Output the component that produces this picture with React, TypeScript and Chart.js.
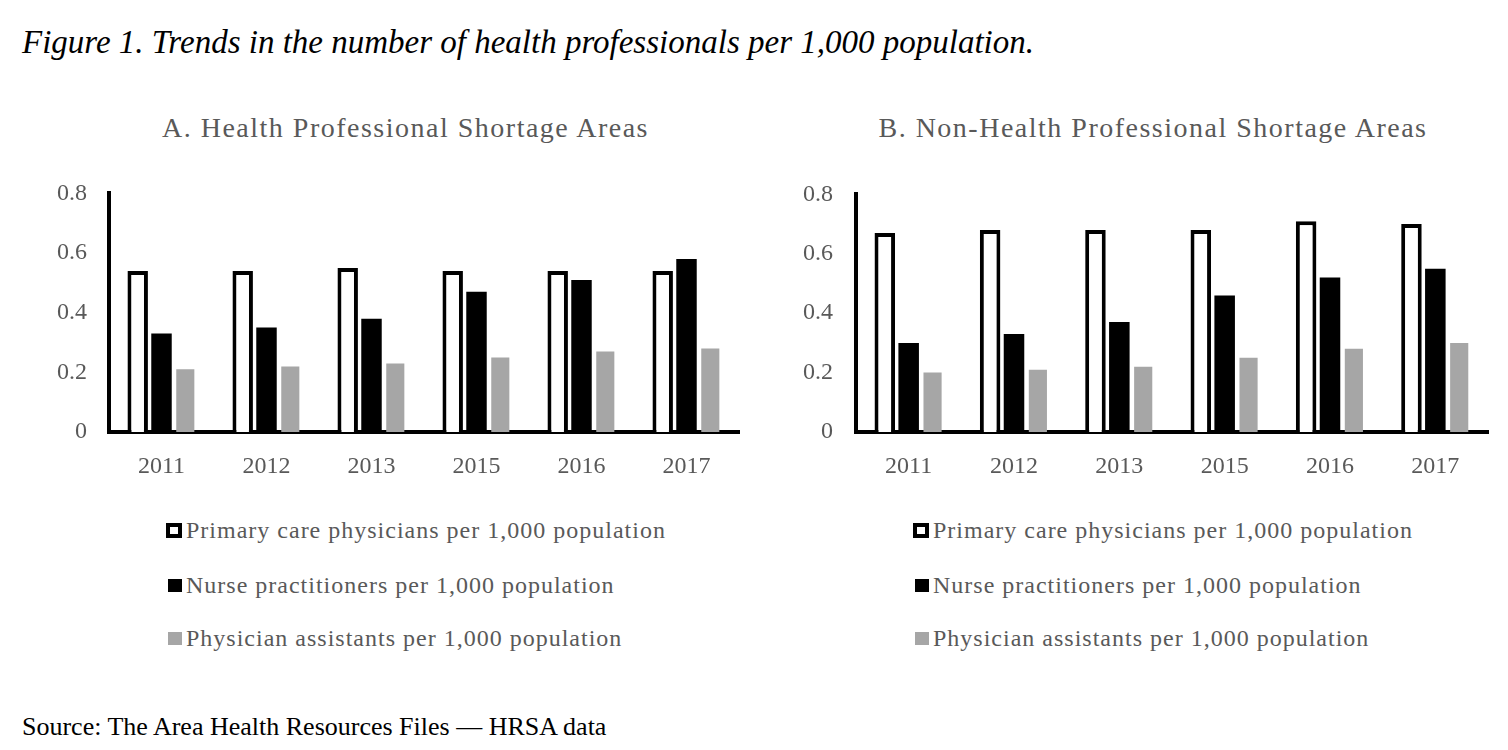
import React, { useEffect, useRef } from "react";
import { Chart, registerables } from "chart.js";

Chart.register(...registerables);

const years = ["2011", "2012", "2013", "2015", "2016", "2017"];
const seriesNames = [
  "Primary care physicians per 1,000 population",
  "Nurse practitioners per 1,000 population",
  "Physician assistants per 1,000 population",
];
const hpsaPrimaryCare = [0.54, 0.54, 0.55, 0.54, 0.54, 0.54];
const hpsaNurse = [0.33, 0.35, 0.38, 0.47, 0.51, 0.58];
const hpsaAssistants = [0.21, 0.22, 0.23, 0.25, 0.27, 0.28];
const nonPrimaryCare = [0.67, 0.68, 0.68, 0.68, 0.71, 0.7];
const nonNurse = [0.3, 0.33, 0.37, 0.46, 0.52, 0.55];
const nonAssistants = [0.2, 0.21, 0.22, 0.25, 0.28, 0.3];
const yMin = 0;
const yMax = 0.8;
const yStep = 0.2;

const FONT = "'Liberation Serif', 'Times New Roman', serif";
const GREY_TEXT = "#595959";
const BAR_GREY = "#A6A6A6";

type PanelProps = {
  primary: number[];
  nurse: number[];
  assistants: number[];
  left: number;
  top: number;
  width: number;
  height: number;
  yAxisWidth: number;
  padRight: number;
  tickPad: number;
};

function Panel(p: PanelProps) {
  const ref = useRef<HTMLCanvasElement | null>(null);
  useEffect(() => {
    if (!ref.current) return;
    const chart = new Chart(ref.current, {
      type: "bar",
      data: {
        labels: years,
        datasets: [
          {
            label: seriesNames[0],
            data: p.primary,
            backgroundColor: "#ffffff",
            borderColor: "#000000",
            borderWidth: 4,
            borderSkipped: "bottom",
            barPercentage: 0.86,
            categoryPercentage: 0.68,
          },
          {
            label: seriesNames[1],
            data: p.nurse,
            backgroundColor: "#000000",
            borderWidth: 0,
            barPercentage: 0.86,
            categoryPercentage: 0.68,
          },
          {
            label: seriesNames[2],
            data: p.assistants,
            backgroundColor: BAR_GREY,
            borderWidth: 0,
            barPercentage: 0.76,
            categoryPercentage: 0.68,
          },
        ],
      },
      options: {
        animation: false,
        responsive: true,
        maintainAspectRatio: false,
        layout: {
          padding: { left: 0, right: p.padRight, top: 0, bottom: 0 },
        },
        plugins: {
          legend: { display: false },
          tooltip: { enabled: false },
          title: { display: false },
        },
        scales: {
          x: {
            grid: { display: false, drawTicks: false },
            border: { display: true, color: "#000000", width: 4 },
            ticks: {
              color: GREY_TEXT,
              font: { family: FONT, size: 24 },
              padding: 20,
            },
            afterFit: (axis: any) => {
              axis.height = 60;
            },
          },
          y: {
            min: yMin,
            max: yMax,
            grid: { display: false, drawTicks: false },
            border: { display: true, color: "#000000", width: 4 },
            ticks: {
              stepSize: yStep,
              color: GREY_TEXT,
              font: { family: FONT, size: 24 },
              padding: p.tickPad,
            },
            afterFit: (axis: any) => {
              axis.width = p.yAxisWidth;
            },
          },
        },
      },
    });
    return () => chart.destroy();
  }, []);
  return (
    <div
      style={{
        position: "absolute",
        left: p.left,
        top: p.top,
        width: p.width,
        height: p.height,
      }}
    >
      <canvas ref={ref} />
    </div>
  );
}

function PanelTitle({ text, center }: { text: string; center: number }) {
  return (
    <div
      style={{
        position: "absolute",
        left: center - 350,
        width: 700,
        top: 111,
        textAlign: "center",
        fontFamily: FONT,
        fontSize: 28,
        lineHeight: "34px",
        letterSpacing: "1.5px",
        color: GREY_TEXT,
        whiteSpace: "nowrap",
      }}
    >
      {text}
    </div>
  );
}

function Marker({ kind }: { kind: number }) {
  if (kind === 0)
    return (
      <div
        style={{
          width: 8,
          height: 7,
          border: "4px solid #000",
          background: "#fff",
        }}
      />
    );
  return (
    <div
      style={{
        width: 14,
        height: 13,
        background: kind === 1 ? "#000" : BAR_GREY,
        marginLeft: 2,
      }}
    />
  );
}

function Legend({ left }: { left: number }) {
  const centers = [530, 585, 638];
  return (
    <>
      {seriesNames.map((name, i) => (
        <div
          key={name}
          style={{
            position: "absolute",
            left,
            top: centers[i] - 15,
            height: 30,
            display: "flex",
            alignItems: "center",
            whiteSpace: "nowrap",
          }}
        >
          <Marker kind={i} />
          <span
            style={{
              marginLeft: 4,
              fontFamily: FONT,
              fontSize: 24,
              letterSpacing: "1px",
              color: GREY_TEXT,
              lineHeight: "30px",
            }}
          >
            {name}
          </span>
        </div>
      ))}
    </>
  );
}

export default function App() {
  return (
    <div
      style={{
        position: "absolute",
        left: 0,
        top: 0,
        width: 1508,
        height: 750,
        background: "#ffffff",
        overflow: "hidden",
      }}
    >
      <div
        style={{
          position: "absolute",
          left: 22,
          top: 22,
          fontFamily: FONT,
          fontStyle: "italic",
          fontSize: 33,
          lineHeight: "40px",
          color: "#000",
          whiteSpace: "nowrap",
        }}
      >
        Figure 1. Trends in the number of health professionals per 1,000 population.
      </div>
      <PanelTitle text="A. Health Professional Shortage Areas" center={405.5} />
      <PanelTitle text="B. Non-Health Professional Shortage Areas" center={1153} />
      <Panel
        primary={hpsaPrimaryCare}
        nurse={hpsaNurse}
        assistants={hpsaAssistants}
        left={40}
        top={157}
        width={730}
        height={335}
        yAxisWidth={69}
        padRight={31}
        tickPad={22}
      />
      <Panel
        primary={nonPrimaryCare}
        nurse={nonNurse}
        assistants={nonAssistants}
        left={798}
        top={157}
        width={710}
        height={335}
        yAxisWidth={58}
        padRight={20}
        tickPad={23}
      />
      <Legend left={166} />
      <Legend left={913} />
      <div
        style={{
          position: "absolute",
          left: 22,
          top: 711,
          fontFamily: FONT,
          fontSize: 26,
          lineHeight: "32px",
          color: "#000",
          whiteSpace: "nowrap",
        }}
      >
        Source: The Area Health Resources Files — HRSA data
      </div>
    </div>
  );
}
